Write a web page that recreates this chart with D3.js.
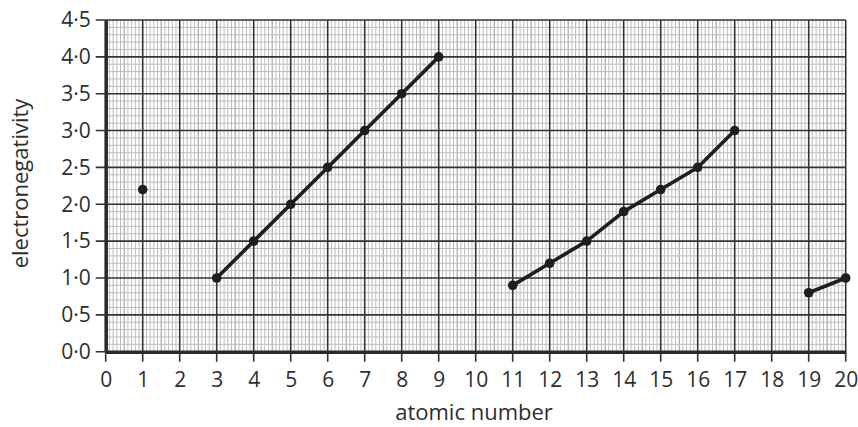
<!DOCTYPE html>
<html><head><meta charset="utf-8">
<script src="https://cdn.jsdelivr.net/npm/d3@7"></script>
<style>
html,body{margin:0;padding:0;background:#fff;}
svg text{font-family:"Open Sans","Noto Sans",sans-serif;fill:#2e2e2e;}
</style></head>
<body><svg id="c" width="858" height="427"></svg>
<script>
const xTicks = d3.range(0, 21);
const yTicks = [0, 0.5, 1, 1.5, 2, 2.5, 3, 3.5, 4, 4.5];
const yTickLabels = ["0·0","0·5","1·0","1·5","2·0","2·5","3·0","3·5","4·0","4·5"];
const lonePoint = [[1, 2.2]];
const period2 = [[3,1.0],[4,1.5],[5,2.0],[6,2.5],[7,3.0],[8,3.5],[9,4.0]];
const period3 = [[11,0.9],[12,1.2],[13,1.5],[14,1.9],[15,2.2],[16,2.5],[17,3.0]];
const period4 = [[19,0.8],[20,1.0]];
const xLabel = "atomic number";
const yLabel = "electronegativity";

const svg = d3.select("#c");
const L = 105.7, R = 845.7, T = 20, B = 351.7;
const x = d3.scaleLinear().domain([0,20]).range([L,R]);
const y = d3.scaleLinear().domain([0,4.5]).range([B,T]);
const FONT = '"Open Sans","Noto Sans",sans-serif';

const g = svg.append("g");
// minor grid
const minorX = d3.range(0, 200).map(i => i/10).filter(v => Math.abs(v - Math.round(v)) > 1e-6);
const minorY = d3.range(0, 45).map(i => i/10).filter(v => Math.abs(v*2 - Math.round(v*2)) > 1e-6);
g.selectAll(".mx").data(minorX).enter().append("line")
  .attr("x1", d => x(d)).attr("x2", d => x(d)).attr("y1", T).attr("y2", B)
  .attr("stroke", d => Math.abs((d*10)%10 - 5) < 1e-6 ? "#959595" : "#bdbdbd").attr("stroke-width", 1);
g.selectAll(".my").data(minorY).enter().append("line")
  .attr("y1", d => y(d)).attr("y2", d => y(d)).attr("x1", L).attr("x2", R)
  .attr("stroke", d => Math.abs(Math.round(d*20)%10 - 5) < 1e-6 ? "#959595" : "#bdbdbd").attr("stroke-width", 1);
// major grid
g.selectAll(".Mx").data(xTicks).enter().append("line")
  .attr("x1", d => x(d)).attr("x2", d => x(d)).attr("y1", T).attr("y2", B + 10)
  .attr("stroke", "#333").attr("stroke-width", 1.6);
g.selectAll(".My").data(yTicks).enter().append("line")
  .attr("y1", d => y(d)).attr("y2", d => y(d)).attr("x1", L - 10).attr("x2", R)
  .attr("stroke", "#333").attr("stroke-width", 1.6);

// axes (thick)
const xAxis = d3.axisBottom(x).tickValues(xTicks).tickSize(0).tickPadding(20).tickFormat(d3.format("d"));
const ax = svg.append("g").attr("transform", `translate(0,${B})`).call(xAxis);
ax.select(".domain").attr("stroke", "#2a2a2a").attr("stroke-width", 3.5);
ax.selectAll("text").attr("font-size", 21).attr("fill", "#2e2e2e").attr("font-family", FONT);

const yAxis = d3.axisLeft(y).tickValues(yTicks).tickSize(0).tickPadding(15).tickFormat((d,i) => yTickLabels[i]);
const ay = svg.append("g").attr("transform", `translate(${L},0)`).call(yAxis);
ay.select(".domain").attr("stroke", "#2a2a2a").attr("stroke-width", 3.5);
ay.selectAll("text").attr("font-size", 21).attr("fill", "#2e2e2e").attr("font-family", FONT);

// axis labels
svg.append("text").attr("x", 474).attr("y", 420).attr("text-anchor", "middle").attr("font-size", 22).text(xLabel);
svg.append("text").attr("transform", `translate(28,${(95+272)/2}) rotate(-90)`).attr("text-anchor", "middle").attr("font-size", 22).text(yLabel);

// data
const line = d3.line().x(d => x(d[0])).y(d => y(d[1]));
[period2, period3, period4].forEach(s => {
  svg.append("path").datum(s).attr("d", line).attr("fill", "none").attr("stroke", "#1e1e1e").attr("stroke-width", 3.6).attr("stroke-linejoin", "round");
});
const allPts = lonePoint.concat(period2, period3, period4);
svg.selectAll(".pt").data(allPts).enter().append("circle")
  .attr("cx", d => x(d[0])).attr("cy", d => y(d[1])).attr("r", 4.8).attr("fill", "#1e1e1e");
</script></body></html>
